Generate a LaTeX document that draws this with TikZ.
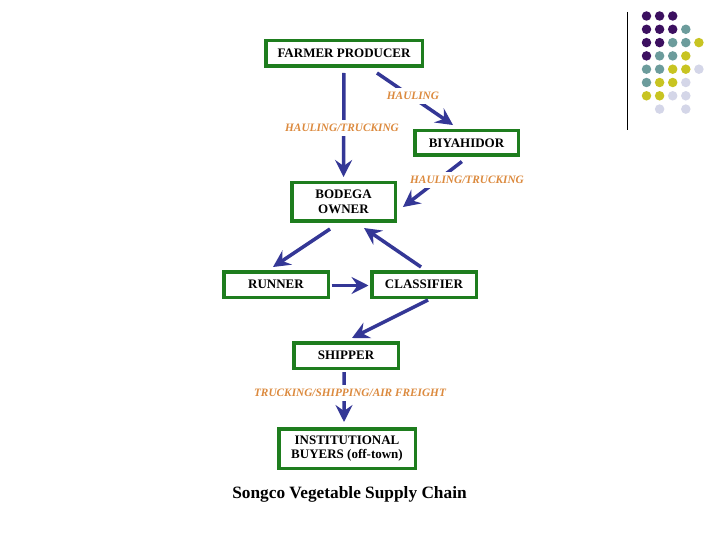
\documentclass[tikz,border=0pt]{standalone}
\usepackage{fontspec}
\setmainfont{Liberation Serif}
\usetikzlibrary{arrows.meta}
\definecolor{boxgreen}{HTML}{1E7D1E}
\definecolor{arrblue}{HTML}{343796}
\definecolor{lblorange}{HTML}{DC8A3E}
\definecolor{dpurple}{HTML}{3C1060}
\definecolor{dteal}{HTML}{6C9C9C}
\definecolor{dyellow}{HTML}{C8C422}
\definecolor{dlav}{HTML}{D4D6E8}
\tikzset{
  chainbox/.style={draw=boxgreen, line width=3.5bp, fill=white, align=center,
    font=\fontsize{13bp}{14.5bp}\selectfont\bfseries, inner sep=0pt},
  arr/.style={draw=arrblue, line width=3.5bp,
    -{Stealth[length=17bp,width=17bp,inset=6bp]}},
  lbl/.style={fill=white, text=lblorange, inner xsep=1bp, inner ysep=4bp,
    font=\fontsize{11.3bp}{12bp}\selectfont\bfseries\itshape},
  dot/.style={circle, inner sep=0pt, minimum size=9.5bp}
}
\def\nn{N}
\begin{document}
\begin{tikzpicture}[x=1bp,y=-1bp]
\useasboundingbox (0,0) rectangle (720,540);
\fill[white] (0,0) rectangle (720,540);
% decoration
\draw[black, line width=1bp] (627,12) -- (627,130);
\foreach \r/\row in {0/{dpurple,dpurple,dpurple,N,N},1/{dpurple,dpurple,dpurple,dteal,N},2/{dpurple,dpurple,dteal,dteal,dyellow},3/{dpurple,dteal,dteal,dyellow,N},4/{dteal,dteal,dyellow,dyellow,dlav},5/{dteal,dyellow,dyellow,dlav,N},6/{dyellow,dyellow,dlav,dlav,N},7/{N,dlav,N,dlav,N}}{
  \foreach \c [count=\i from 0] in \row {
    \ifx\c\nn\else
      \node[dot, fill=\c] (d\r\i) at (646.5+13.1*\i, 16+13.3*\r) {};
    \fi
  }
}
% boxes
\node[chainbox, minimum width=156.5bp, minimum height=25.5bp] (farmer) at (344,53.5) {FARMER PRODUCER};
\node[chainbox, minimum width=103.5bp, minimum height=24.5bp] (biya) at (466.5,143) {BIYAHIDOR};
\node[chainbox, minimum width=103.5bp, minimum height=38.5bp] (bodega) at (343.5,202) {BODEGA\\OWNER};
\node[chainbox, minimum width=104.5bp, minimum height=25.5bp] (runner) at (276,284.5) {RUNNER};
\node[chainbox, minimum width=104.5bp, minimum height=25.5bp] (classifier) at (424,284.5) {CLASSIFIER};
\node[chainbox, minimum width=104.5bp, minimum height=25.5bp] (shipper) at (346,355.5) {SHIPPER};
\node[chainbox, minimum width=136.5bp, minimum height=39.5bp] (inst) at (347,448.5) {INSTITUTIONAL\\BUYERS (off-town)};
% arrows
\draw[arr, shorten <=5bp, shorten >=4bp] (farmer.south) -- (bodega.north);
\draw[arr, shorten <=8.8bp, shorten >=7bp] ([xshift=25.7bp]farmer.south) -- ([xshift=-7.7bp]biya.north);
\draw[arr, shorten <=7.5bp, shorten >=7.5bp] ([xshift=1.3bp]biya.south) -- ([yshift=-9.6bp]bodega.east);
\draw[arr, shorten <=10.8bp, shorten >=5.4bp] ([xshift=-4.5bp]bodega.south) -- ([xshift=-7.5bp]runner.north);
\draw[arr, shorten <=5.3bp, shorten >=8.9bp] ([xshift=1.4bp]classifier.north) -- ([xshift=13.2bp]bodega.south);
\draw[arr, shorten <=1.5bp, shorten >=1.5bp] ([yshift=-1bp]runner.east) -- ([yshift=-1bp]classifier.west);
\draw[arr, shorten <=2.2bp, shorten >=6.7bp] ([xshift=6bp]classifier.south) -- (shipper.north);
\draw[arr, shorten <=2bp, shorten >=5bp] ([xshift=-2bp]shipper.south) -- ([xshift=-3bp]inst.north);
% labels
\node[lbl] (l1) at (342,128) {HAULING/TRUCKING};
\node[lbl] (l2) at (413,96) {HAULING};
\node[lbl] (l3) at (467,180) {HAULING/TRUCKING};
\node[lbl] (l4) at (350,393) {TRUCKING/SHIPPING/AIR FREIGHT};
% caption
\node[font=\fontsize{17.3bp}{19bp}\selectfont\bfseries] (cap) at (349.5,494) {Songco Vegetable Supply Chain};
\end{tikzpicture}
\end{document}
